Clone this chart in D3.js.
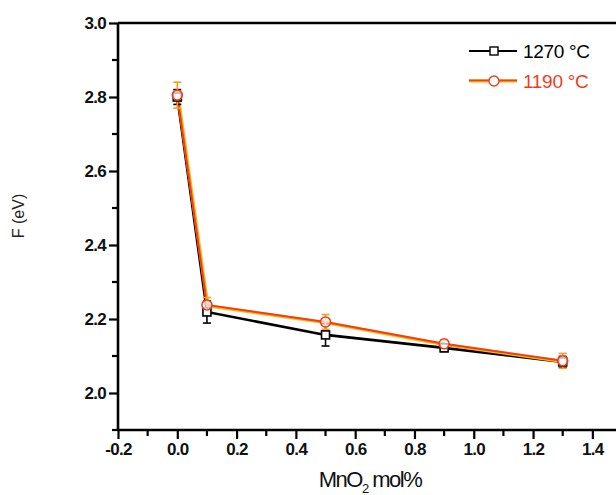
<!DOCTYPE html>
<html>
<head>
<meta charset="utf-8">
<script src="https://cdn.jsdelivr.net/npm/d3@7"></script>
<style>
body { margin: 0; background: #fff; }
svg { display: block; }
</style>
</head>
<body>
<div id="chart"></div>
<script>
const width = 616;
const height = 495;
const marginTop = 23;
const marginLeft = 118;
const marginBottom = 65;
const plotRight = 622;

// data
const mno2 = [0.0, 0.1, 0.5, 0.9, 1.3];
const f1270 = [2.800, 2.219, 2.157, 2.122, 2.084];
const err1270 = [0.02, 0.03, 0.03, 0.01, 0.015];
const f1190 = [2.805, 2.238, 2.192, 2.133, 2.087];
const err1190 = [0.035, 0.02, 0.02, 0.01, 0.02];
const xTicks = [-0.2, 0.0, 0.2, 0.4, 0.6, 0.8, 1.0, 1.2, 1.4];
const yTicks = [2.0, 2.2, 2.4, 2.6, 2.8, 3.0];

const svg = d3.select("#chart")
    .append("svg")
    .attr("width", width)
    .attr("height", height);

const x = d3.scaleLinear()
    .domain([-0.2, 1.5])
    .range([marginLeft, plotRight]);

const y = d3.scaleLinear()
    .domain([1.9, 3.0])
    .range([height - marginBottom, marginTop]);

const bottom = height - marginBottom;
const fmt = d => d.toFixed(1);

// axes
const xAxis = svg.append("g")
    .attr("transform", `translate(0, ${bottom})`)
    .call(d3.axisBottom(x).tickValues(xTicks).tickSize(9).tickPadding(4).tickFormat(fmt));
const yAxis = svg.append("g")
    .attr("transform", `translate(${marginLeft}, 0)`)
    .call(d3.axisLeft(y).tickValues(yTicks).tickSize(9).tickPadding(3).tickFormat(fmt));

[xAxis, yAxis].forEach(g => {
    g.select(".domain").attr("stroke", "#000").attr("stroke-width", 2.6);
    g.selectAll(".tick line").attr("stroke", "#000").attr("stroke-width", 2.2);
    g.selectAll(".tick text")
        .attr("fill", "#111")
        .style("font-family", "Liberation Sans, Arial, sans-serif")
        .style("font-size", "17px")
        .style("font-weight", "bold")
        .style("letter-spacing", "-0.7px");
});
yAxis.select(".domain").attr("d", `M0,${bottom}V${marginTop}`);
xAxis.select(".domain").attr("d", `M${marginLeft},0H${plotRight}`);

// minor ticks
const xMinor = xTicks.map(v => v + 0.1);
const yMinor = yTicks.map(v => v - 0.1);
svg.append("g").selectAll("line")
    .data(xMinor)
    .join("line")
    .attr("x1", d => x(d)).attr("x2", d => x(d))
    .attr("y1", bottom).attr("y2", bottom + 6)
    .attr("stroke", "#000").attr("stroke-width", 2.2);
svg.append("g").selectAll("line")
    .data(yMinor)
    .join("line")
    .attr("x1", marginLeft - 6).attr("x2", marginLeft)
    .attr("y1", d => y(d)).attr("y2", d => y(d))
    .attr("stroke", "#000").attr("stroke-width", 2.2);

// top frame line
svg.append("line")
    .attr("x1", marginLeft).attr("x2", plotRight)
    .attr("y1", y(3.0)).attr("y2", y(3.0))
    .attr("stroke", "#000").attr("stroke-width", 2.6);

// axis titles
const xTitle = svg.append("text")
    .attr("x", 370)
    .attr("y", 487)
    .attr("text-anchor", "middle")
    .style("font-family", "Liberation Sans, Arial, sans-serif")
    .style("font-size", "22px")
    .style("letter-spacing", "-1.5px")
    .attr("fill", "#111");
xTitle.append("tspan").text("MnO");
xTitle.append("tspan").attr("font-size", "13px").attr("dy", 6).text("2");
xTitle.append("tspan").attr("dy", -6).text(" mol%");

svg.append("text")
    .attr("transform", "translate(24, 216) rotate(-90)")
    .attr("text-anchor", "middle")
    .style("font-family", "Liberation Sans, Arial, sans-serif")
    .style("font-size", "16px")
    .attr("fill", "#222")
    .text("F  (eV)");

const pts1270 = mno2.map((v, i) => ({x: v, y: f1270[i], e: err1270[i]}));
const pts1190 = mno2.map((v, i) => ({x: v, y: f1190[i], e: err1190[i]}));

const line = d3.line()
    .x(d => x(d.x))
    .y(d => y(d.y));

// 1270 series (black)
svg.append("path")
    .datum(pts1270)
    .attr("fill", "none")
    .attr("stroke", "#000")
    .attr("stroke-width", 2.6)
    .attr("d", line);

// 1190 series (orange / red)
svg.append("path")
    .datum(pts1190)
    .attr("fill", "none")
    .attr("stroke", "#ffb400")
    .attr("stroke-width", 3.2)
    .attr("transform", "translate(0.8, 0.8)")
    .attr("d", line);
svg.append("path")
    .datum(pts1190)
    .attr("fill", "none")
    .attr("stroke", "#f23c1e")
    .attr("stroke-width", 2)
    .attr("d", line);

function errorBars(data, color) {
    const g = svg.append("g").attr("stroke", color).attr("stroke-width", 1.6);
    g.selectAll(".v").data(data).join("line")
        .attr("x1", d => x(d.x)).attr("x2", d => x(d.x))
        .attr("y1", d => y(d.y - d.e)).attr("y2", d => y(d.y + d.e));
    g.selectAll(".t").data(data).join("line")
        .attr("x1", d => x(d.x) - 4).attr("x2", d => x(d.x) + 4)
        .attr("y1", d => y(d.y + d.e)).attr("y2", d => y(d.y + d.e));
    g.selectAll(".b").data(data).join("line")
        .attr("x1", d => x(d.x) - 4).attr("x2", d => x(d.x) + 4)
        .attr("y1", d => y(d.y - d.e)).attr("y2", d => y(d.y - d.e));
}
errorBars(pts1270, "#000");
errorBars(pts1190, "#f5a01a");

svg.append("g").selectAll("rect")
    .data(pts1270)
    .join("rect")
    .attr("x", d => x(d.x) - 4)
    .attr("y", d => y(d.y) - 4)
    .attr("width", 8)
    .attr("height", 8)
    .attr("fill", "#fff")
    .attr("stroke", "#000")
    .attr("stroke-width", 1.6);

svg.append("g").selectAll("circle")
    .data(pts1190)
    .join("circle")
    .attr("cx", d => x(d.x))
    .attr("cy", d => y(d.y))
    .attr("r", 5)
    .attr("fill", "#fff")
    .attr("fill-opacity", 0.7)
    .attr("stroke", "#f23c1e")
    .attr("stroke-width", 1.6);

// legend
const legend = svg.append("g").attr("transform", "translate(469, 51)");
legend.append("line")
    .attr("x1", 0).attr("x2", 48).attr("y1", 0).attr("y2", 0)
    .attr("stroke", "#000").attr("stroke-width", 2.2);
legend.append("rect")
    .attr("x", 21).attr("y", -4).attr("width", 8).attr("height", 8)
    .attr("fill", "#fff").attr("stroke", "#000").attr("stroke-width", 1.4);
legend.append("text")
    .attr("x", 54).attr("y", 7)
    .style("font-family", "Liberation Sans, Arial, sans-serif")
    .style("font-size", "19px")
    .style("letter-spacing", "-0.3px")
    .attr("fill", "#000")
    .text("1270 °C");

legend.append("line")
    .attr("x1", 0).attr("x2", 48).attr("y1", 30).attr("y2", 30)
    .attr("stroke", "#ffb400").attr("stroke-width", 3);
legend.append("line")
    .attr("x1", 0).attr("x2", 48).attr("y1", 29.4).attr("y2", 29.4)
    .attr("stroke", "#f23c1e").attr("stroke-width", 1.6);
legend.append("circle")
    .attr("cx", 25).attr("cy", 30).attr("r", 5)
    .attr("fill", "#fff").attr("stroke", "#f23c1e").attr("stroke-width", 1.4);
legend.append("text")
    .attr("x", 54).attr("y", 37)
    .style("font-family", "Liberation Sans, Arial, sans-serif")
    .style("font-size", "19px")
    .style("letter-spacing", "-0.3px")
    .attr("fill", "#f03c1e")
    .text("1190 °C");
</script>
</body>
</html>
